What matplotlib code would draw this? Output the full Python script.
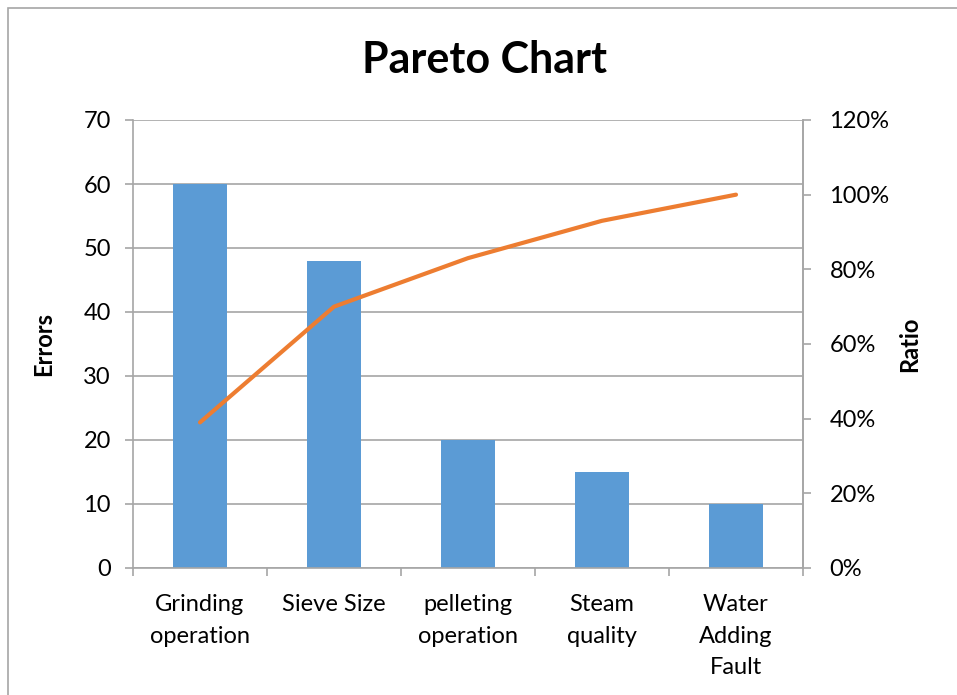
import numpy as np
import matplotlib.pyplot as plt
from matplotlib.patches import Rectangle
from matplotlib.ticker import FuncFormatter

categories = ["Grinding\noperation", "Sieve Size", "pelleting\noperation", "Steam\nquality", "Water\nAdding\nFault"]
errors = [60, 48, 20, 15, 10]
ratio = [0.39, 0.70, 0.83, 0.93, 1.00]

plt.rcParams['font.family'] = ['Lato', 'DejaVu Sans']

fig = plt.figure(figsize=(9.57, 6.95), dpi=100)
ax = fig.add_axes([133 / 957, 1 - 568 / 695, 670 / 957, 448 / 695])

x = np.arange(len(categories))
ax.bar(x, errors, width=0.4, color="#5B9BD5", zorder=2)
ax.set_xlim(-0.5, len(categories) - 0.5)
ax.set_ylim(0, 70)
ax.set_yticks(range(0, 71, 10))
ax.yaxis.grid(True, color="#A6A6A6", linewidth=1.2, zorder=0)
ax.set_axisbelow(True)

ax.set_xticks(x)
ax.set_xticklabels(categories, fontsize=17, linespacing=1.6, va='top')
ax.set_xticks(np.arange(-0.5, len(categories)), minor=True)
ax.tick_params(axis='x', which='major', length=0, pad=19)
ax.tick_params(axis='x', which='minor', length=6, color="#A6A6A6", width=1.2)
ax.tick_params(axis='y', labelsize=17, length=6, color="#A6A6A6", width=1.2, pad=10)

ax.spines['top'].set_visible(False)
for side in ['left', 'right', 'bottom']:
    ax.spines[side].set_color("#A6A6A6")
    ax.spines[side].set_linewidth(1.2)

ax.set_ylabel("Errors", fontsize=17, fontweight='bold', labelpad=20)

ax2 = ax.twinx()
ax2.plot(x, ratio, color="#ED7D31", linewidth=3, solid_capstyle='round')
ax2.set_ylim(0, 1.2)
ax2.set_yticks(np.arange(0, 1.21, 0.2))
ax2.yaxis.set_major_formatter(FuncFormatter(lambda v, p: f"{v * 100:.0f}%"))
ax2.tick_params(axis='y', labelsize=17, length=6, color="#A6A6A6", width=1.2, pad=13)
for side in ['top', 'left', 'bottom']:
    ax2.spines[side].set_visible(False)
ax2.spines['right'].set_color("#A6A6A6")
ax2.spines['right'].set_linewidth(1.2)
ax2.set_ylabel("Ratio", fontsize=17, fontweight='bold', labelpad=6)

fig.text(484 / 957, 1 - 60 / 695, "Pareto Chart", fontsize=31, fontweight='bold',
         ha='center', va='center')

fig.patches.append(Rectangle((8 / 957, -0.01), 1.1, 1 - 8 / 695 + 0.01, transform=fig.transFigure,
                             fill=False, edgecolor="#A6A6A6", linewidth=1.2))

fig.savefig("out.png", dpi=100)
